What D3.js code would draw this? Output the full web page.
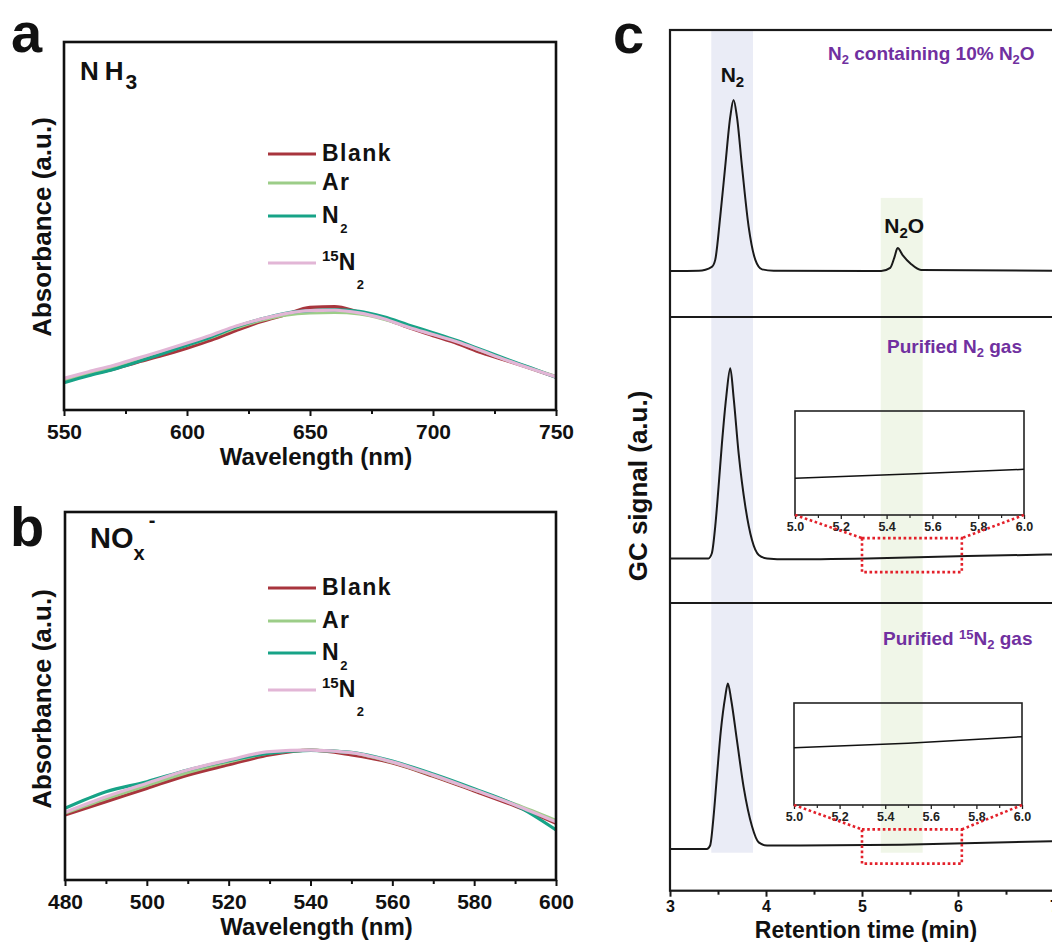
<!DOCTYPE html>
<html>
<head>
<meta charset="utf-8">
<script src="https://cdn.jsdelivr.net/npm/d3@7"></script>
<style>
  body { margin: 0; background: #fff; }
  svg { display: block; font-family: "Liberation Sans", Arial, Helvetica, sans-serif; font-weight: bold; }
</style>
</head>
<body>
<svg id="fig" width="1052" height="942"></svg>
<script>
// ---------------- UV-vis spectra: NH3 (indophenol) ----------------
const wlNH3 = [550,560,570,580,590,600,610,620,630,640,650,660,670,680,690,700,710,720,730,740,750];
const nh3Blank = [0.080,0.096,0.111,0.130,0.148,0.168,0.190,0.216,0.240,0.259,0.279,0.281,0.266,0.249,0.224,0.202,0.180,0.155,0.134,0.112,0.090];
const nh3Ar    = [0.081,0.099,0.115,0.135,0.155,0.176,0.198,0.223,0.243,0.258,0.264,0.265,0.261,0.247,0.226,0.206,0.186,0.160,0.136,0.113,0.091];
const nh3N2    = [0.074,0.093,0.110,0.131,0.153,0.176,0.199,0.226,0.247,0.263,0.270,0.272,0.268,0.253,0.231,0.210,0.188,0.163,0.138,0.114,0.089];
const nh3N15   = [0.086,0.104,0.121,0.141,0.161,0.182,0.204,0.228,0.247,0.262,0.270,0.271,0.264,0.248,0.225,0.205,0.185,0.160,0.135,0.112,0.090];
const ticksNH3 = [550,600,650,700,750];
const minorNH3 = [575,625,675,725];

// ---------------- UV-vis spectra: NOx- ----------------
const wlNOx = [480,490,500,510,520,530,540,550,560,570,580,590,600];
const noxBlank = [0.177,0.213,0.249,0.285,0.313,0.340,0.353,0.340,0.318,0.282,0.242,0.201,0.154];
const noxAr    = [0.182,0.221,0.257,0.292,0.321,0.345,0.353,0.346,0.320,0.284,0.245,0.206,0.162];
const noxN2    = [0.195,0.240,0.267,0.299,0.324,0.345,0.352,0.347,0.323,0.288,0.248,0.204,0.136];
const noxN15   = [0.184,0.226,0.263,0.299,0.326,0.349,0.353,0.346,0.321,0.285,0.245,0.204,0.158];
const ticksNOx = [480,500,520,540,560,580,600];
const minorNOx = [490,510,530,550,570,590];

const seriesNames  = ["Blank", "Ar", "N2", "15N2"];
const seriesColors = ["#a8353d", "#9ccd88", "#17a387", "#e2b6d6"];

// ---------------- GC traces (retention time in min, signal in a.u.) ----------------
const tMix = [3.0,3.3,3.436,3.471,3.523,3.575,3.628,3.662,3.697,3.750,3.819,3.889,3.959,4.08,5.2,5.294,5.336,5.371,5.423,5.510,5.615,7.0];
const gcMix = [16.0,16.1,17.5,19.9,34.9,52.4,69.8,75.6,69.8,52.4,31.5,19.9,16.6,16.1,16.0,17.1,20.6,24.0,21.6,18.5,16.4,16.1];
const tN2 = [3.0,3.40,3.436,3.471,3.506,3.541,3.586,3.628,3.662,3.715,3.785,3.854,3.924,4.011,4.22,5.057,6.10,7.0];
const gcN2 = [15.6,15.6,17.4,26.7,40.7,55.8,72.1,82.1,72.1,52.3,33.7,22.0,16.8,15.6,15.3,15.6,16.4,17.0];
const tN15 = [3.0,3.384,3.418,3.453,3.488,3.530,3.575,3.603,3.638,3.697,3.767,3.854,3.924,4.011,4.36,5.41,7.0];
const gcN15 = [14.5,14.5,15.7,25.5,39.5,55.7,67.4,72.0,66.2,52.3,36.0,22.4,16.8,15.7,15.7,16.0,17.2];

// zoomed baseline segments (5.0-6.0 min)
const tInset = [5.0, 5.5, 6.0];
const insetN2 = [35.3, 39.4, 43.9];
const insetN15 = [56.2, 60.5, 67.0];
const insetTicks = [5.0, 5.2, 5.4, 5.6, 5.8, 6.0];
const insetMinor = [5.1, 5.3, 5.5, 5.7, 5.9];
const zoomWindow = [5.0, 6.04];

const ticksGC = [3, 4, 5, 6, 7];
const minorGC = [3.5, 4.5, 5.5, 6.5];
// retention windows of N2 and N2O
const bandN2 = [3.43, 3.865];
const bandN2O = [5.195, 5.632];

const fig = d3.select("#fig");
const INK = "#111";

// text with sub/superscripts
function rich(sel, x, y, parts, size, opt = {}) {
  const t = sel.append("text").attr("x", x).attr("y", y).attr("font-size", size)
    .attr("text-anchor", opt.anchor || "start").attr("fill", opt.fill || INK);
  if (opt.spacing) t.attr("letter-spacing", opt.spacing);
  let shift = 0;
  parts.forEach(p => {
    const s = t.append("tspan").text(p.t);
    const want = p.sub ? p.sub : (p.sup ? -p.sup : 0);
    if (want !== shift) { s.attr("dy", want - shift); shift = want; }
    if (p.size) s.attr("font-size", p.size);
    if (p.dx) s.attr("dx", p.dx);
    if (p.spacing !== undefined) s.attr("letter-spacing", p.spacing);
  });
  return t;
}

function legendParts(name) {
  if (name === "N2") return [{t: "N"}, {t: "2", sub: 10, size: 13}];
  if (name === "15N2") return [{t: "15", sup: 9, size: 15, spacing: 0}, {t: "N"}, {t: "2", sub: 19, size: 13}];
  return [{t: name}];
}

// ---------- spectrum panel ----------
function spectrumPanel(cfg) {
  const g = fig.append("g");
  const x = d3.scaleLinear().domain(cfg.domain).range([cfg.left, cfg.right]);
  const y = d3.scaleLinear().domain([0, 1]).range([cfg.bottom, cfg.top]);

  const line = d3.line().x((d, i) => x(cfg.wl[i])).y(d => y(d)).curve(d3.curveMonotoneX);
  cfg.series.forEach((s, k) => {
    g.append("path").datum(s).attr("d", line).attr("fill", "none")
      .attr("stroke", seriesColors[k]).attr("stroke-width", 3.2).attr("stroke-linejoin", "round");
  });

  g.append("rect").attr("x", cfg.left).attr("y", cfg.top)
    .attr("width", cfg.right - cfg.left).attr("height", cfg.bottom - cfg.top)
    .attr("fill", "none").attr("stroke", INK).attr("stroke-width", 2.6);

  const ax = g.append("g").attr("transform", `translate(0,${cfg.bottom})`)
    .call(d3.axisBottom(x).tickValues(cfg.ticks).tickSize(6).tickPadding(8).tickFormat(d3.format("d")));
  ax.select(".domain").remove();
  ax.selectAll(".tick line").attr("stroke", INK).attr("stroke-width", 2);
  ax.selectAll("text").attr("font-size", 21).attr("fill", INK).attr("font-family", "Liberation Sans, Arial, sans-serif");
  const mx = g.append("g").attr("transform", `translate(0,${cfg.bottom})`)
    .call(d3.axisBottom(x).tickValues(cfg.minor).tickSize(4).tickFormat(""));
  mx.select(".domain").remove();
  mx.selectAll(".tick line").attr("stroke", INK).attr("stroke-width", 2);

  g.append("text").attr("x", (cfg.left + cfg.right) / 2 + 6).attr("y", cfg.bottom + 55)
    .attr("text-anchor", "middle").attr("font-size", 24).attr("fill", INK)
    .text("Wavelength (nm)");
  g.append("text").attr("transform", `translate(51,${cfg.yTitleY}) rotate(-90)`)
    .attr("text-anchor", "middle").attr("font-size", 26).attr("fill", INK)
    .text("Absorbance (a.u.)");

  // legend
  seriesNames.forEach((n, k) => {
    const ly = cfg.legendY[k];
    g.append("line").attr("x1", 268).attr("x2", 316).attr("y1", ly).attr("y2", ly)
      .attr("stroke", seriesColors[k]).attr("stroke-width", 3);
    rich(g, 322, ly + 7, legendParts(n), 23, {spacing: 1.5});
  });
  return g;
}

spectrumPanel({
  domain: [550, 750], wl: wlNH3, series: [nh3Blank, nh3Ar, nh3N2, nh3N15],
  left: 64, right: 556, top: 42, bottom: 410, ticks: ticksNH3, minor: minorNH3,
  legendY: [154, 183, 216, 263], yTitleY: 227
});
spectrumPanel({
  domain: [480, 600], wl: wlNOx, series: [noxBlank, noxAr, noxN2, noxN15],
  left: 65, right: 556, top: 512, bottom: 880, ticks: ticksNOx, minor: minorNOx,
  legendY: [588, 621, 653, 690], yTitleY: 699
});

// species labels
rich(fig, 80, 80, [{t: "N", spacing: 6}, {t: "H", spacing: 0}, {t: "3", sub: 9, size: 21, dx: 2}], 26);
rich(fig, 90, 548, [{t: "NO"}, {t: "x", sub: 12, size: 20}, {t: "-", sup: 21, size: 20, dx: 4}], 29);

// panel letters
fig.append("text").attr("x", 11).attr("y", 52).attr("font-size", 56).attr("fill", INK).text("a");
fig.append("text").attr("x", 10).attr("y", 546).attr("font-size", 56).attr("fill", INK).text("b");
fig.append("text").attr("x", 613).attr("y", 53).attr("font-size", 56).attr("fill", INK).text("c");

// ---------- GC panel ----------
const cLeft = 670, cRight = 1054;
const subTop = [30, 317, 603], subBottom = [317, 603, 890.7];
const xC = d3.scaleLinear().domain([3, 7]).range([cLeft, cRight]);
const yC = subTop.map((t, i) => d3.scaleLinear().domain([0, 100]).range([subBottom[i], t]));
const gc = fig.append("g");

// retention bands
gc.append("rect").attr("x", xC(bandN2[0])).attr("width", xC(bandN2[1]) - xC(bandN2[0]))
  .attr("y", yC[0](100)).attr("height", yC[2](13.2) - yC[0](100)).attr("fill", "#eaecf6");
gc.append("rect").attr("x", xC(bandN2O[0])).attr("width", xC(bandN2O[1]) - xC(bandN2O[0]))
  .attr("y", yC[0](41.5)).attr("height", yC[2](13.2) - yC[0](41.5)).attr("fill", "#f0f6e8");

const gcTraces = [[tMix, gcMix], [tN2, gcN2], [tN15, gcN15]];
gcTraces.forEach(([t, v], i) => {
  const ln = d3.line().x((d, j) => xC(t[j])).y(d => yC[i](d)).curve(d3.curveMonotoneX);
  gc.append("path").datum(v).attr("d", ln).attr("fill", "none")
    .attr("stroke", "#1a1a1a").attr("stroke-width", 2);
});

// frame + dividers
gc.append("rect").attr("x", cLeft).attr("y", subTop[0]).attr("width", cRight - cLeft)
  .attr("height", subBottom[2] - subTop[0]).attr("fill", "none").attr("stroke", "#1a1a1a").attr("stroke-width", 2.2);
[subTop[1], subTop[2]].forEach(yy => gc.append("line").attr("x1", cLeft).attr("x2", cRight)
  .attr("y1", yy).attr("y2", yy).attr("stroke", "#1a1a1a").attr("stroke-width", 2));

const axC = gc.append("g").attr("transform", `translate(0,${subBottom[2]})`)
  .call(d3.axisBottom(xC).tickValues(ticksGC).tickSize(6).tickPadding(4).tickFormat(d3.format("d")));
axC.select(".domain").remove();
axC.selectAll(".tick line").attr("stroke", "#1a1a1a").attr("stroke-width", 2);
axC.selectAll("text").attr("font-size", 16).attr("fill", INK).attr("font-family", "Liberation Sans, Arial, sans-serif");
const mxC = gc.append("g").attr("transform", `translate(0,${subBottom[2]})`)
  .call(d3.axisBottom(xC).tickValues(minorGC).tickSize(4).tickFormat(""));
mxC.select(".domain").remove();
mxC.selectAll(".tick line").attr("stroke", "#1a1a1a").attr("stroke-width", 2);

gc.append("text").attr("x", 866).attr("y", 938).attr("text-anchor", "middle")
  .attr("font-size", 23).attr("fill", INK).text("Retention time (min)");
gc.append("text").attr("transform", "translate(647,486) rotate(-90)").attr("text-anchor", "middle")
  .attr("font-size", 26).attr("fill", INK).text("GC signal (a.u.)");

// peak labels
rich(gc, xC(3.65), yC[0](81.9), [{t: "N"}, {t: "2", sub: 5, size: 15}], 21, {anchor: "middle"});
rich(gc, xC(5.44), yC[0](29.3), [{t: "N"}, {t: "2", sub: 5, size: 15}, {t: "O", sub: 0}], 21, {anchor: "middle"});

// sample titles
const PURPLE = "#7030a0";
rich(gc, 828, 60, [{t: "N"}, {t: "2", sub: 4, size: 13}, {t: " containing 10% N", sub: 0}, {t: "2", sub: 4, size: 13}, {t: "O", sub: 0}], 19, {fill: PURPLE});
rich(gc, 887, 353, [{t: "Purified N"}, {t: "2", sub: 4, size: 13}, {t: " gas", sub: 0}], 19, {fill: PURPLE});
rich(gc, 883, 645, [{t: "Purified "}, {t: "15", sup: 6, size: 13}, {t: "N", sub: 0}, {t: "2", sub: 4, size: 13}, {t: " gas", sub: 0}], 19, {fill: PURPLE});

// zoomed insets with dotted call-outs
function inset(box, vals, yMain, win, winVals) {
  const ix = d3.scaleLinear().domain([5, 6]).range([box.x0, box.x1]);
  const iy = d3.scaleLinear().domain([0, 100]).range([box.y1, box.y0]);
  const ig = gc.append("g");
  ig.append("rect").attr("x", box.x0).attr("y", box.y0).attr("width", box.x1 - box.x0)
    .attr("height", box.y1 - box.y0).attr("fill", "none").attr("stroke", "#222").attr("stroke-width", 1.6);
  ig.append("path").datum(vals).attr("fill", "none").attr("stroke", "#111").attr("stroke-width", 1.5)
    .attr("d", d3.line().x((d, j) => ix(tInset[j])).y(d => iy(d)));
  const a = ig.append("g").attr("transform", `translate(0,${box.y1})`)
    .call(d3.axisBottom(ix).tickValues(insetTicks).tickSize(4).tickPadding(3).tickFormat(d3.format(".1f")));
  a.select(".domain").remove();
  a.selectAll(".tick line").attr("stroke", "#222").attr("stroke-width", 1.3);
  a.selectAll("text").attr("font-size", 12.5).attr("fill", "#222").attr("font-family", "Liberation Sans, Arial, sans-serif");
  const m = ig.append("g").attr("transform", `translate(0,${box.y1})`)
    .call(d3.axisBottom(ix).tickValues(insetMinor).tickSize(3).tickFormat(""));
  m.select(".domain").remove();
  m.selectAll(".tick line").attr("stroke", "#222").attr("stroke-width", 1.2);

  const red = {stroke: "#e3202a", "stroke-width": 2.6, "stroke-dasharray": "2.6,2.6", fill: "none"};
  const wx0 = xC(win[0]), wx1 = xC(win[1]);
  const wy0 = yMain(winVals[1]), wy1 = yMain(winVals[0]);
  const r = ig.append("rect").attr("x", wx0).attr("y", wy0).attr("width", wx1 - wx0).attr("height", wy1 - wy0);
  const l1 = ig.append("line").attr("x1", ix(5)).attr("y1", box.y1).attr("x2", wx0).attr("y2", wy0);
  const l2 = ig.append("line").attr("x1", ix(6)).attr("y1", box.y1).attr("x2", wx1).attr("y2", wy0);
  [r, l1, l2].forEach(s => Object.entries(red).forEach(([k, v]) => s.attr(k, v)));
}
inset({x0: 795, x1: 1024, y0: 411, y1: 515}, insetN2, yC[1], zoomWindow, [10.8, 22.7]);
inset({x0: 794, x1: 1022, y0: 703, y1: 805}, insetN15, yC[2], zoomWindow, [9.4, 21.3]);
</script>
</body>
</html>
